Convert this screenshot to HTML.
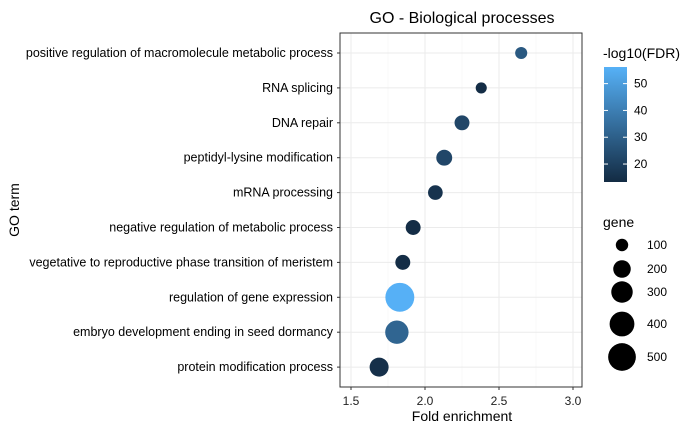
<!DOCTYPE html>
<html><head><meta charset="utf-8"><style>
body{margin:0;background:#fff;width:700px;height:432px;overflow:hidden}
svg text{font-family:"Liberation Sans",Arial,sans-serif}
</style></head><body>
<svg id="chart" width="700" height="432" viewBox="0 0 700 432">
<defs><linearGradient id="cb" x1="0" y1="1" x2="0" y2="0"><stop offset="0" stop-color="#132B43"/><stop offset="1" stop-color="#56B1F7"/></linearGradient></defs>
<text x="462" y="23" font-size="16" text-anchor="middle" fill="#000">GO - Biological processes</text>
<g id="panel"></g>
<text x="462" y="421" font-size="14" text-anchor="middle" fill="#000">Fold enrichment</text>
<text transform="translate(19,210) rotate(-90)" font-size="14" text-anchor="middle" fill="#000">GO term</text>
<g>
<text x="603" y="58" font-size="14" fill="#000">-log10(FDR)</text>
<rect x="604" y="67" width="23" height="115" fill="url(#cb)"/>
<g id="cbticks"></g>
</g>
<g>
<text x="603" y="227" font-size="14" fill="#000">gene</text>
<g id="sizeleg"></g>
</g>
</svg>
<script>
const terms=["positive regulation of macromolecule metabolic process","RNA splicing","DNA repair","peptidyl-lysine modification","mRNA processing","negative regulation of metabolic process","vegetative to reproductive phase transition of meristem","regulation of gene expression","embryo development ending in seed dormancy","protein modification process"];
const fold=[2.65,2.38,2.25,2.13,2.07,1.92,1.85,1.83,1.81,1.69];
const genes=[95,80,145,165,140,145,145,545,355,235];
const fdr=[28,14,22,22,16,14,14,56,32,15];
const xTicks=[1.5,2.0,2.5,3.0];
const cbTicks=[20,30,40,50];
const sizeBreaks=[100,200,300,400,500];

const NS="http://www.w3.org/2000/svg";
const px0=340,px1=582,py0=33,py1=387;
const x=v=>351+(v-1.5)*148;
const y=i=>53+i*34.9;
const r=g=>0.62*Math.sqrt(g);
const cMin=13.3,cMax=56.2;
const cy=v=>182-(v-cMin)/(cMax-cMin)*115;
function col(v){let t=Math.max(0,Math.min(1,(v-cMin)/(cMax-cMin)));
 const a=[0x13,0x2B,0x43],b=[0x56,0xB1,0xF7];
 return "rgb("+a.map((c,k)=>Math.round(c+(b[k]-c)*t)).join(",")+")";}
function mk(tag,attrs,parent,text){const e=document.createElementNS(NS,tag);for(const k in attrs)e.setAttribute(k,attrs[k]);if(text!=null)e.textContent=text;parent.appendChild(e);return e;}
const P=document.getElementById("panel");
xTicks.forEach((t,i)=>{
 const l=mk("line",{x1:x(t),x2:x(t),y1:py0,y2:py1,stroke:"#EBEBEB","stroke-width":1},P);
 
 
 if(i<xTicks.length-1){const m=mk("line",{x1:x(t+0.25),x2:x(t+0.25),y1:py0,y2:py1,stroke:"#F4F4F4","stroke-width":0.6},P);
 
 }
 const tk=mk("line",{x1:x(t),x2:x(t),y1:py1,y2:py1+3,stroke:"#333"},P);
 
 
 const tx=mk("text",{x:x(t),y:405,"font-size":12,"text-anchor":"middle",fill:"#222"},P,t.toFixed(1));
 
 
});
terms.forEach((t,i)=>{
 const l=mk("line",{x1:px0,x2:px1,y1:y(i),y2:y(i),stroke:"#EBEBEB","stroke-width":1},P);
 
 
 const tk=mk("line",{x1:px0-3,x2:px0,y1:y(i),y2:y(i),stroke:"#333"},P);
 
 
 const tx=mk("text",{x:333,y:y(i)+4,"font-size":12.5,"text-anchor":"end",fill:"#000"},P,t);
 
 
});
const border=mk("rect",{x:px0,y:py0,width:px1-px0,height:py1-py0,fill:"none",stroke:"#333","stroke-width":1},P);


terms.forEach((t,i)=>{
 const c=mk("circle",{cx:x(fold[i]),cy:y(i),r:r(genes[i]),fill:col(fdr[i])},P);
 
 
});
const CB=document.getElementById("cbticks");
cbTicks.forEach(v=>{
 const a=mk("line",{x1:604,x2:608,y1:cy(v),y2:cy(v),stroke:"#fff"},CB);
 
 
 const b=mk("line",{x1:623,x2:627,y1:cy(v),y2:cy(v),stroke:"#fff"},CB);
 
 
 const tx=mk("text",{x:634,y:cy(v)+4,"font-size":12,fill:"#000"},CB,String(v));
 
 
});
const SL=document.getElementById("sizeleg");
const sy=[245,269,292,324,357];
sizeBreaks.forEach((v,i)=>{
 const c=mk("circle",{cx:622,cy:sy[i],r:r(v),fill:"#000"},SL);
 
 
 const tx=mk("text",{x:647,y:sy[i]+4,"font-size":12,fill:"#000"},SL,String(v));
 
 
});
</script>
</body></html>
